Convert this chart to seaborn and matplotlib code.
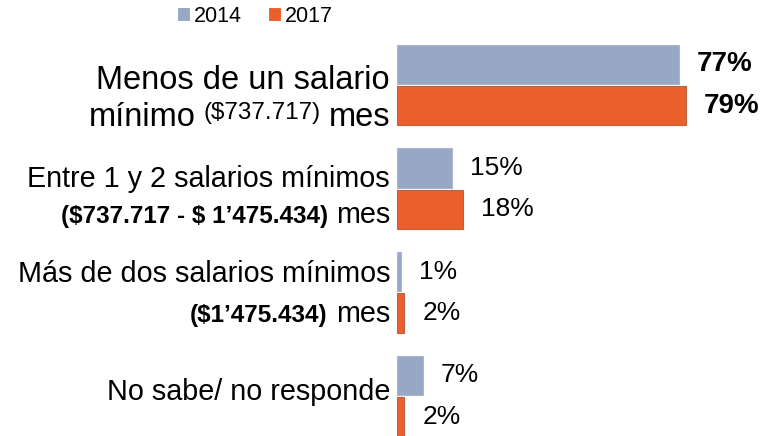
import matplotlib
matplotlib.use("Agg")
import matplotlib.pyplot as plt
from matplotlib.transforms import IdentityTransform
import pandas as pd
import seaborn as sns

CATEGORIES = [
    "Menos de un salario mínimo",
    "Entre 1 y 2 salarios mínimos",
    "Más de dos salarios mínimos",
    "No sabe/ no responde",
]
YEARS = ["2014", "2017"]
VALUES_2014 = [77, 15, 1, 7]
VALUES_2017 = [79, 18, 2, 2]
COLORS = {"2014": "#96a8c4", "2017": "#ea602c"}

# category labels, line by line, split into pieces with their own style
LABEL_LINES = [
    [[("Menos de un salario", "big")],
     [("mínimo", "big"), ("($737.717)", "sup"), ("mes", "big")]],
    [[("Entre 1 y 2 salarios mínimos", "reg")],
     [("($737.717 - $ 1’475.434)", "bold"), ("mes", "reg")]],
    [[("Más de dos salarios mínimos", "reg")],
     [("($1’475.434)", "bold"), ("mes", "reg")]],
    [[("No sabe/ no responde", "reg")]],
]
# baseline of each line, pixels below the category centre
LINE_OFFSETS = [[4, 41], [-2, 34], [-10, 30], [4]]
STYLES = {
    "big": dict(size=23.5, weight="normal", rise=0),
    "sup": dict(size=17.5, weight="normal", rise=7),
    "reg": dict(size=20.7, weight="normal", rise=0),
    "bold": dict(size=17.5, weight="bold", rise=0),
}

sns.set_style("white")
plt.rcParams["font.family"] = ["Liberation Sans", "DejaVu Sans"]

df = pd.DataFrame({
    "category": CATEGORIES * 2,
    "year": [YEARS[0]] * len(CATEGORIES) + [YEARS[1]] * len(CATEGORIES),
    "value": VALUES_2014 + VALUES_2017,
})

W, H = 764, 436
fig = plt.figure(figsize=(W / 100, H / 100), dpi=100)
ax = fig.add_axes([397 / W, 0, (W - 397) / W, 1])

sns.barplot(data=df, x="value", y="category", hue="year", order=CATEGORIES,
            hue_order=YEARS, palette=COLORS, saturation=1, orient="h",
            width=0.8, gap=0.05, linewidth=0.8, ax=ax)
for bar in ax.containers[0]:
    bar.set_edgecolor("#a9b7cf")
for bar in ax.containers[1]:
    bar.set_edgecolor("#b8613f")

ax.set_xlim(0, 100.3)
ax.set_ylim(3.385, -0.82)
ax.set_xlabel("")
ax.set_ylabel("")
ax.set_xticks([])
ax.set_yticks([])
sns.despine(ax=ax, left=True, bottom=True)

# value labels
for ci, cont in enumerate(ax.containers):
    vals = VALUES_2014 if ci == 0 else VALUES_2017
    texts = ax.bar_label(cont, labels=[f"{v}%" for v in vals], padding=13,
                         color="black")
    for i, t in enumerate(texts):
        if i == 0:
            t.set_fontsize(20)
            t.set_fontweight("bold")
        else:
            t.set_fontsize(19)

# legend
handles, labels = ax.get_legend_handles_labels()
ax.legend(handles, labels, loc="center", bbox_to_anchor=(255 / W, 1 - 16 / H),
          bbox_transform=fig.transFigure, ncol=2, frameon=False, fontsize=15.5,
          handlelength=0.6, handleheight=0.6, handletextpad=0.2,
          columnspacing=1.2, labelcolor="black")

# category labels, built right to left
renderer = fig.canvas.get_renderer()
x_right = 390
for i, lines in enumerate(LABEL_LINES):
    yc = ax.transData.transform((0, i))[1]
    for pieces, off in zip(lines, LINE_OFFSETS[i]):
        x = x_right
        for text, key in reversed(pieces):
            st = STYLES[key]
            t = fig.text(x, yc - off + st["rise"], text, transform=IdentityTransform(),
                         ha="right", va="baseline", fontsize=st["size"],
                         fontweight=st["weight"], color="black", parse_math=False)
            bb = t.get_window_extent(renderer)
            x = bb.x0 - (12 if key == "bold" else 8)

fig.savefig("out.png", dpi=100)
